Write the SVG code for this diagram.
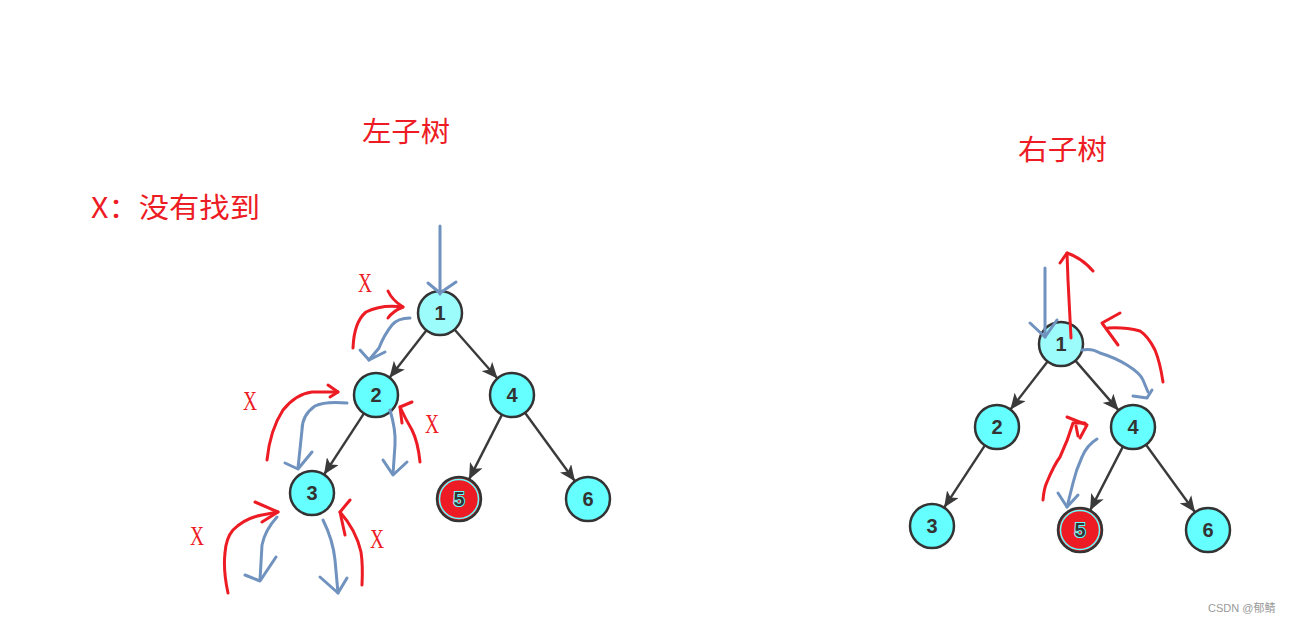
<svg xmlns="http://www.w3.org/2000/svg" width="1292" height="624" viewBox="0 0 1292 624">
<style>
.n{fill:#66ffff;stroke:#333;stroke-width:2.5}
.n1{fill:#9cfcfc;stroke:#333;stroke-width:2.5}
.red{fill:#ed1c24;stroke:#333;stroke-width:2.5}
.ring{fill:none;stroke:#66ffff;stroke-width:1.5}
.t{font-family:"Liberation Sans","DejaVu Sans",sans-serif;font-weight:bold;font-size:20px;fill:#333;text-anchor:middle}
.t5{font-family:"Liberation Sans","DejaVu Sans",sans-serif;font-weight:bold;font-size:20px;fill:#333;stroke:#66ffff;stroke-width:2;paint-order:stroke;text-anchor:middle}
.e{stroke:#3a3a3a;stroke-width:2.4;fill:none;marker-end:url(#ah)}
.h{fill:none;stroke-width:3;stroke-linecap:round;stroke-linejoin:round}
.hr{stroke:#ed1c24}
.hb{stroke:#7092be}
.cn{font-family:"Noto Sans CJK SC","Noto Sans CJK TC",sans-serif;font-size:28px;fill:#ed1c24}
.x{font-family:"Liberation Serif",serif;font-size:27px;fill:#ed1c24}
.wm{font-family:"Liberation Sans","Noto Sans CJK SC",sans-serif;font-size:11px;fill:#999}
</style>
<defs>
<marker id="ah" markerUnits="userSpaceOnUse" markerWidth="16" markerHeight="14" refX="16" refY="7" orient="auto">
<path d="M0,0 L16,7 L0,14 L4,7 z" fill="#3a3a3a"/>
</marker>
</defs>
<rect width="1292" height="624" fill="#fff"/>

<g id="labels">
<text class="cn" x="362" y="142" textLength="88" lengthAdjust="spacingAndGlyphs">左子树</text>
<text class="cn" x="1018" y="160" textLength="89" lengthAdjust="spacingAndGlyphs">右子树</text>
<text class="cn" x="91" y="218" textLength="169" lengthAdjust="spacingAndGlyphs">X：没有找到</text>
<text class="x" x="358" y="292" textLength="14" lengthAdjust="spacingAndGlyphs">X</text>
<text class="x" x="243" y="410" textLength="14" lengthAdjust="spacingAndGlyphs">X</text>
<text class="x" x="425" y="433" textLength="14" lengthAdjust="spacingAndGlyphs">X</text>
<text class="x" x="190" y="545" textLength="14" lengthAdjust="spacingAndGlyphs">X</text>
<text class="x" x="370" y="548" textLength="14" lengthAdjust="spacingAndGlyphs">X</text>
<text class="wm" x="1208" y="612">CSDN @郁鲭</text>
</g>

<g id="connectors">
<line class="e" x1="426.5" y1="330.3" x2="389.5" y2="377.7"/>
<line class="e" x1="454.5" y1="329.5" x2="497.5" y2="378.5"/>
<line class="e" x1="364" y1="413.4" x2="324" y2="474.6"/>
<line class="e" x1="502" y1="414.6" x2="469" y2="479.4"/>
<line class="e" x1="525" y1="412.8" x2="575" y2="481.2"/>
<line class="e" x1="1047.6" y1="361.4" x2="1010.4" y2="409.6"/>
<line class="e" x1="1075.4" y1="360.6" x2="1118.6" y2="410.4"/>
<line class="e" x1="984.9" y1="445.4" x2="944.1" y2="507.6"/>
<line class="e" x1="1122.9" y1="446.6" x2="1090.1" y2="510.4"/>
<line class="e" x1="1146" y1="444.8" x2="1195" y2="512.2"/>
</g>

<g id="left-node-1"><circle class="n1" cx="440" cy="313" r="22"/><text class="t" x="440" y="320">1</text></g>
<g id="left-node-2"><circle class="n" cx="376" cy="395" r="22"/><text class="t" x="376" y="402">2</text></g>
<g id="left-node-4"><circle class="n" cx="512" cy="395" r="22"/><text class="t" x="512" y="402">4</text></g>
<g id="left-node-3"><circle class="n" cx="312" cy="493" r="22"/><text class="t" x="312" y="500">3</text></g>
<g id="left-node-5"><circle class="red" cx="459" cy="499" r="22"/><circle class="ring" cx="459" cy="499" r="19.5"/><text class="t5" x="459" y="506">5</text></g>
<g id="left-node-6"><circle class="n" cx="588" cy="499" r="22"/><text class="t" x="588" y="506">6</text></g>

<g id="right-node-1"><circle class="n1" cx="1061" cy="344" r="22"/><text class="t" x="1061" y="351">1</text></g>
<g id="right-node-2"><circle class="n" cx="997" cy="427" r="22"/><text class="t" x="997" y="434">2</text></g>
<g id="right-node-4"><circle class="n" cx="1133" cy="427" r="22"/><text class="t" x="1133" y="434">4</text></g>
<g id="right-node-3"><circle class="n" cx="932" cy="526" r="22"/><text class="t" x="932" y="533">3</text></g>
<g id="right-node-5"><circle class="red" cx="1080" cy="530" r="22"/><circle class="ring" cx="1080" cy="530" r="19.5"/><text class="t5" x="1080" y="537">5</text></g>
<g id="right-node-6"><circle class="n" cx="1208" cy="530" r="22"/><text class="t" x="1208" y="537">6</text></g>

<g id="strokes">
<path class="h hb" d="M440,226 L440,294"/>
<path class="h hb" d="M428,283 L440,293 L456,282"/>
<path class="h hr" d="M353,348 Q354,322 366,312 Q382,304 403,307"/>
<path class="h hr" d="M388,291 Q392,300 403,307 Q393,311 388,318"/>
<path class="h hb" d="M410,318 Q398,318 392,325 Q384,335 379,348 L369,360"/>
<path class="h hb" d="M360,350 L369,360 L385,352"/>

<path class="h hr" d="M267,460 Q270,430 283,410 Q296,394 312,392 L338,392"/>
<path class="h hr" d="M328,385 L338,392 L330,397"/>
<path class="h hb" d="M347,403 Q325,401 315,406 Q302,415 302,430 L298,468"/>
<path class="h hb" d="M285,463 L298,469 L312,452"/>
<path class="h hr" d="M420,462 Q418,442 412,430 Q405,418 400,407"/>
<path class="h hr" d="M412,402 L400,407 L402,423"/>
<path class="h hb" d="M390,410 Q396,430 395,445 L393,474"/>
<path class="h hb" d="M383,460 L393,475 L407,462"/>

<path class="h hr" d="M228,593 Q223,570 225,553 Q226,538 233,530 Q245,518 262,515 L278,512"/>
<path class="h hr" d="M255,502 L278,512 L262,522"/>
<path class="h hb" d="M277,517 Q265,530 262,545 L260,580"/>
<path class="h hb" d="M245,575 L260,581 L276,557"/>
<path class="h hb" d="M323,520 Q333,540 335,560 L338,593"/>
<path class="h hb" d="M320,577 L338,593 L347,578"/>
<path class="h hr" d="M362,585 Q363,565 361,552 Q356,530 340,512"/>
<path class="h hr" d="M350,500 L340,512 L345,535"/>

<path class="h hb" d="M1045,268 L1045,337"/>
<path class="h hb" d="M1030,323 L1045,337 L1057,320"/>
<path class="h hr" d="M1071,338 Q1069,300 1068,280 L1067,253"/>
<path class="h hr" d="M1060,263 L1067,253 Q1082,258 1093,271"/>
<path class="h hr" d="M1163,382 Q1160,362 1155,350 Q1148,336 1140,331 Q1125,327 1108,328"/>
<path class="h hr" d="M1120,313 L1102,323 L1118,345"/>
<path class="h hb" d="M1082,350 Q1092,348 1100,353 Q1116,358 1127,365 Q1140,373 1143,380 L1148,392"/>
<path class="h hb" d="M1133,396 L1147,398 L1152,390"/>
<path class="h hr" d="M1043,500 Q1044,488 1047,482 Q1054,465 1060,457 Q1068,440 1073,423 L1085,423"/>
<path class="h hr" d="M1067,417 L1087,425 L1080,438"/>
<path class="h hr" d="M1076,426 L1078,436"/>
<path class="h hb" d="M1097,439 Q1087,445 1082,457 Q1076,470 1073,483 L1067,507"/>
<path class="h hb" d="M1058,493 L1067,507 L1078,495"/>
</g>
</svg>
